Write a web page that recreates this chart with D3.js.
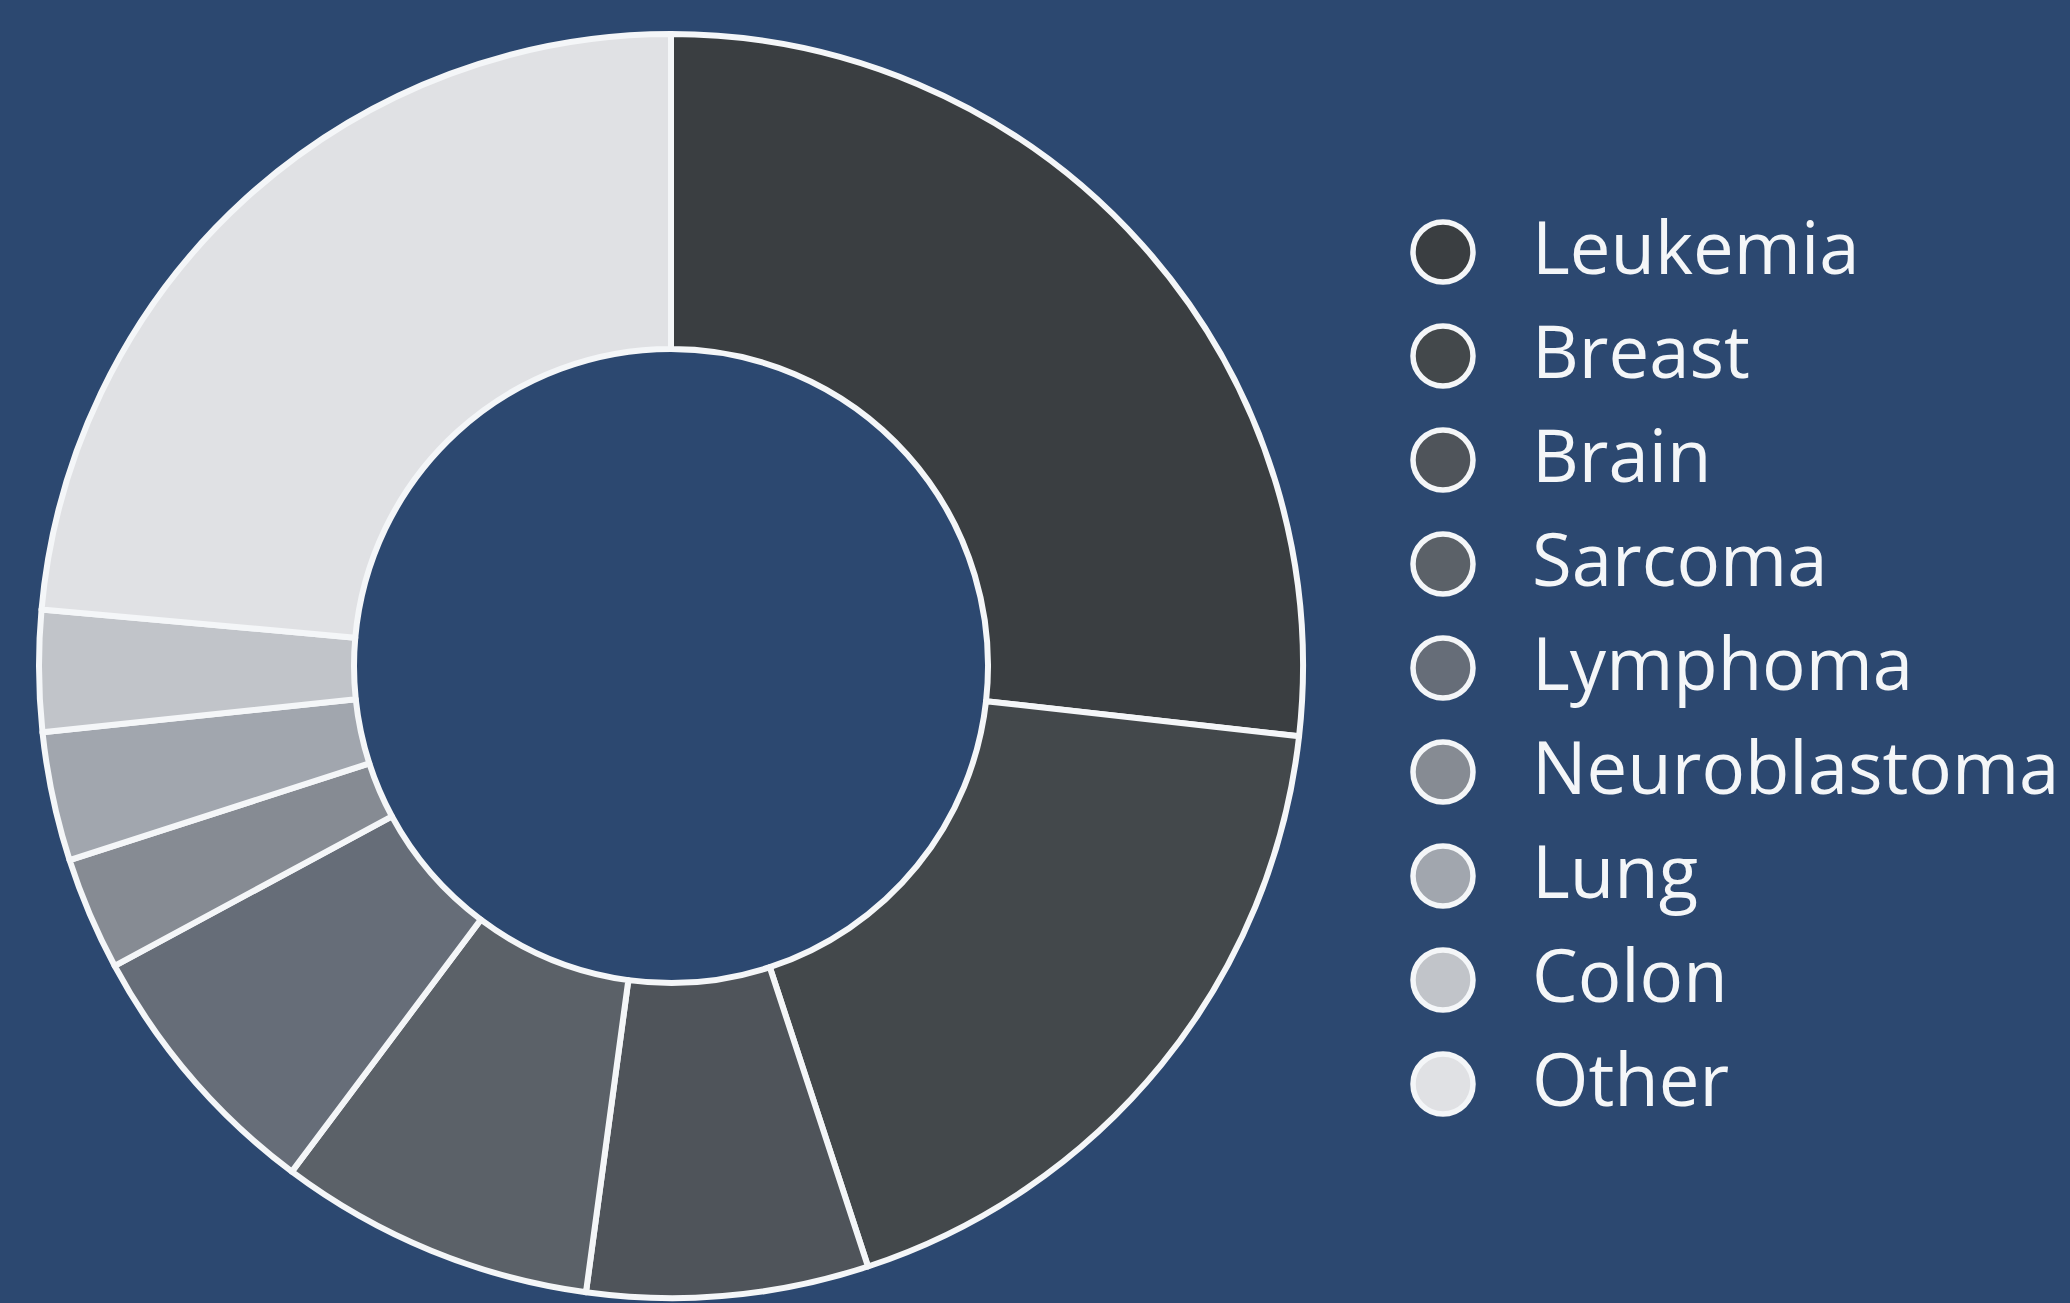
<!DOCTYPE html>
<html>
<head>
<meta charset="utf-8">
<script src="https://cdn.jsdelivr.net/npm/d3@7"></script>
<style>
  html, body { margin: 0; padding: 0; background: #2c4870; }
  svg { display: block; }
</style>
</head>
<body>
<svg id="chart" width="2070" height="1303"></svg>
<script>
const categories = ["Leukemia", "Breast", "Brain", "Sarcoma", "Lymphoma", "Neuroblastoma", "Lung", "Colon", "Other"];
const values = [26.8, 18.2, 7.2, 8.1, 6.9, 2.9, 3.3, 3.1, 23.6];
const colors = ["#3a3e41", "#43484b", "#4f545a", "#5b6168", "#666d78", "#868b93", "#a1a6ae", "#c1c4c9", "#e0e1e4"];

const W = 2070, H = 1303;
const svg = d3.select("#chart");
svg.append("rect").attr("width", W).attr("height", H).attr("fill", "#2c4870");

const cx = 671, cy = 666, outerR = 632, innerR = 317;
const data = categories.map((c, i) => ({ name: c, value: values[i], color: colors[i] }));

const pie = d3.pie().value(d => d.value).sort(null);
const arc = d3.arc().innerRadius(innerR).outerRadius(outerR);

const g = svg.append("g").attr("transform", `translate(${cx},${cy})`);
g.selectAll("path").data(pie(data)).join("path")
  .attr("d", arc)
  .attr("fill", d => d.data.color)
  .attr("stroke", "#f4f6f8")
  .attr("stroke-width", 6)
  .attr("stroke-linejoin", "round");

// Legend
const y = d3.scalePoint().domain(categories).range([252, 1084]);
const leg = svg.append("g");
const items = leg.selectAll("g").data(data).join("g")
  .attr("transform", d => `translate(0,${y(d.name)})`);
items.append("circle")
  .attr("cx", 1443).attr("cy", 0).attr("r", 30)
  .attr("fill", d => d.color)
  .attr("stroke", "#f4f6f8").attr("stroke-width", 5.5);
items.append("text")
  .attr("x", 1532).attr("y", 22)
  .attr("fill", "#f4f6f8")
  .style("font-family", "'Open Sans', sans-serif")
  .style("font-size", "72.5px")
  .text(d => d.name);
</script>
</body>
</html>
